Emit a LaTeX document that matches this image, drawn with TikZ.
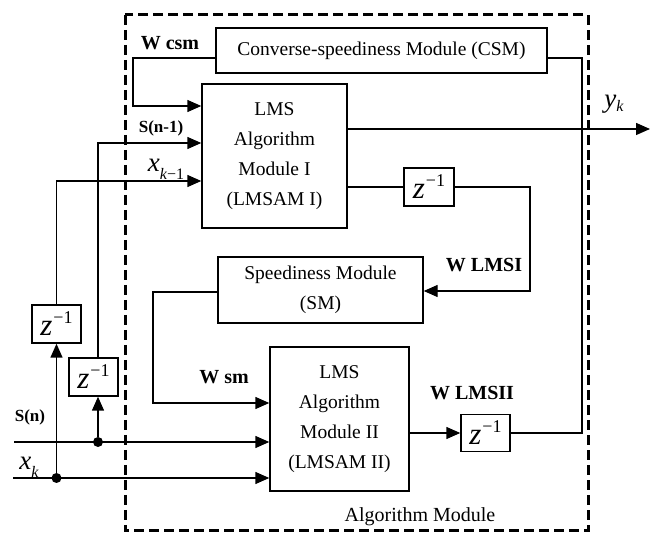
\documentclass[tikz,border=0pt]{standalone}
\usepackage{fontspec}
\setmainfont{Liberation Serif}
\usetikzlibrary{arrows.meta}
\newcommand{\zminus}{\textit{z}\kern1pt\raisebox{12pt}{\fontsize{18}{18}\selectfont −1}}
\newcommand{\withsub}[2]{\textit{#1}\raisebox{-8pt}{\fontsize{16}{16}\selectfont #2}}
\begin{document}
\begin{tikzpicture}[x=1pt,y=-1pt,
 box/.style={draw,line width=1.4pt,inner sep=0pt,align=center,font=\fontsize{19.5}{30}\selectfont},
 zbox/.style={draw,line width=1.4pt,inner sep=0pt,minimum width=49pt,minimum height=38pt,font=\fontsize{31}{31}\selectfont},
 wire/.style={line width=1.4pt},
 arr/.style={wire,-{Triangle[length=14pt,width=12pt]}},
 lbl/.style={font=\bfseries\fontsize{20}{20}\selectfont,inner sep=0pt},
 slbl/.style={font=\bfseries\fontsize{17}{17}\selectfont,inner sep=0pt},
 mlbl/.style={font=\fontsize{27}{27}\selectfont,inner sep=0pt},
 dot/.style={circle,fill,inner sep=0pt,minimum size=10pt}]
\useasboundingbox (0,0) rectangle (657,534);
% dashed frame
\draw[line width=3pt,dash pattern=on 10pt off 5pt] (125,15) rectangle (588,531);
% boxes
\node[box,minimum width=331pt,minimum height=45pt] (csm) at (381.5,50.5) {Converse-speediness Module (CSM)};
\node[box,minimum width=145pt,minimum height=144pt] (lms1) at (274.5,156) {LMS\\Algorithm\\Module I\\(LMSAM I)};
\node[box,minimum width=205pt,minimum height=66pt] (sm) at (320.5,290) {Speediness Module\\(SM)};
\node[box,minimum width=139pt,minimum height=144pt] (lms2) at (339.5,419) {LMS\\Algorithm\\Module II\\(LMSAM II)};
\node[zbox,minimum width=50pt] (z1) at (429,187) {\zminus};
\node[zbox,minimum height=37pt] (z2) at (485.5,433) {\zminus};
\node[zbox] (zL1) at (56.5,324) {\zminus};
\node[zbox] (zL2) at (93.5,377) {\zminus};
\node[dot] (d1) at (98,442) {};
\node[dot] (d2) at (56.5,478) {};
\coordinate (sin) at (14,442);
\coordinate (xin) at (13,478);
\coordinate (yout) at (650,129);
% connectors
\draw[arr] ([yshift=-7.5pt]csm.west) -- (133,58) -- (133,106) -- ([yshift=50pt]lms1.west);
\draw[arr] ([xshift=4.5pt]zL2.north) |- ([yshift=13pt]lms1.west);
\draw[arr] (zL1.north) |- ([yshift=-25pt]lms1.west);
\draw[arr] ([yshift=27pt]lms1.east) -- (yout);
\draw[wire] ([yshift=-31pt]lms1.east) -- (z1.west);
\draw[arr] (z1.east) -- (530,187) -- (530,291) -- ([yshift=-1pt]sm.east);
\draw[arr] ([yshift=-2pt]sm.west) -- (153,292) -- (153,403) -- ([yshift=16pt]lms2.west);
\draw[arr] (sin) -- ([yshift=-23pt]lms2.west);
\draw[arr] (xin) -- ([yshift=-59pt]lms2.west);
\draw[arr] (d1) -- ([xshift=4.5pt]zL2.south);
\draw[arr] (d2) -- (zL1.south);
\draw[arr] ([yshift=-14pt]lms2.east) -- (z2.west);
\draw[wire] (z2.east) -- (582,433) -- (582,58) -- ([yshift=-7.5pt]csm.east);
% labels
\node[lbl] (lwcsm) at (170,43) {W csm};
\node[slbl] (lsn1) at (161,128) {S(n-1)};
\node[mlbl] (lxk1) at (166,169) {\withsub{x}{\textit{k}−1}};
\node[slbl] (lsn) at (30,417) {S(n)};
\node[mlbl] (lxk) at (29,467) {\withsub{x}{\textit{k}}};
\node[lbl] (lwsm) at (224,377) {W sm};
\node[lbl] (lwl1) at (484,265) {W LMSI};
\node[lbl] (lwl2) at (472,393) {W LMSII};
\node[mlbl] (lyk) at (614,104) {\textit{y}\raisebox{-4pt}{\fontsize{16}{16}\selectfont\textit{k}}};
\node[font=\fontsize{20}{20}\selectfont,inner sep=0pt] (lam) at (420,517) {Algorithm Module};
\end{tikzpicture}
\end{document}
